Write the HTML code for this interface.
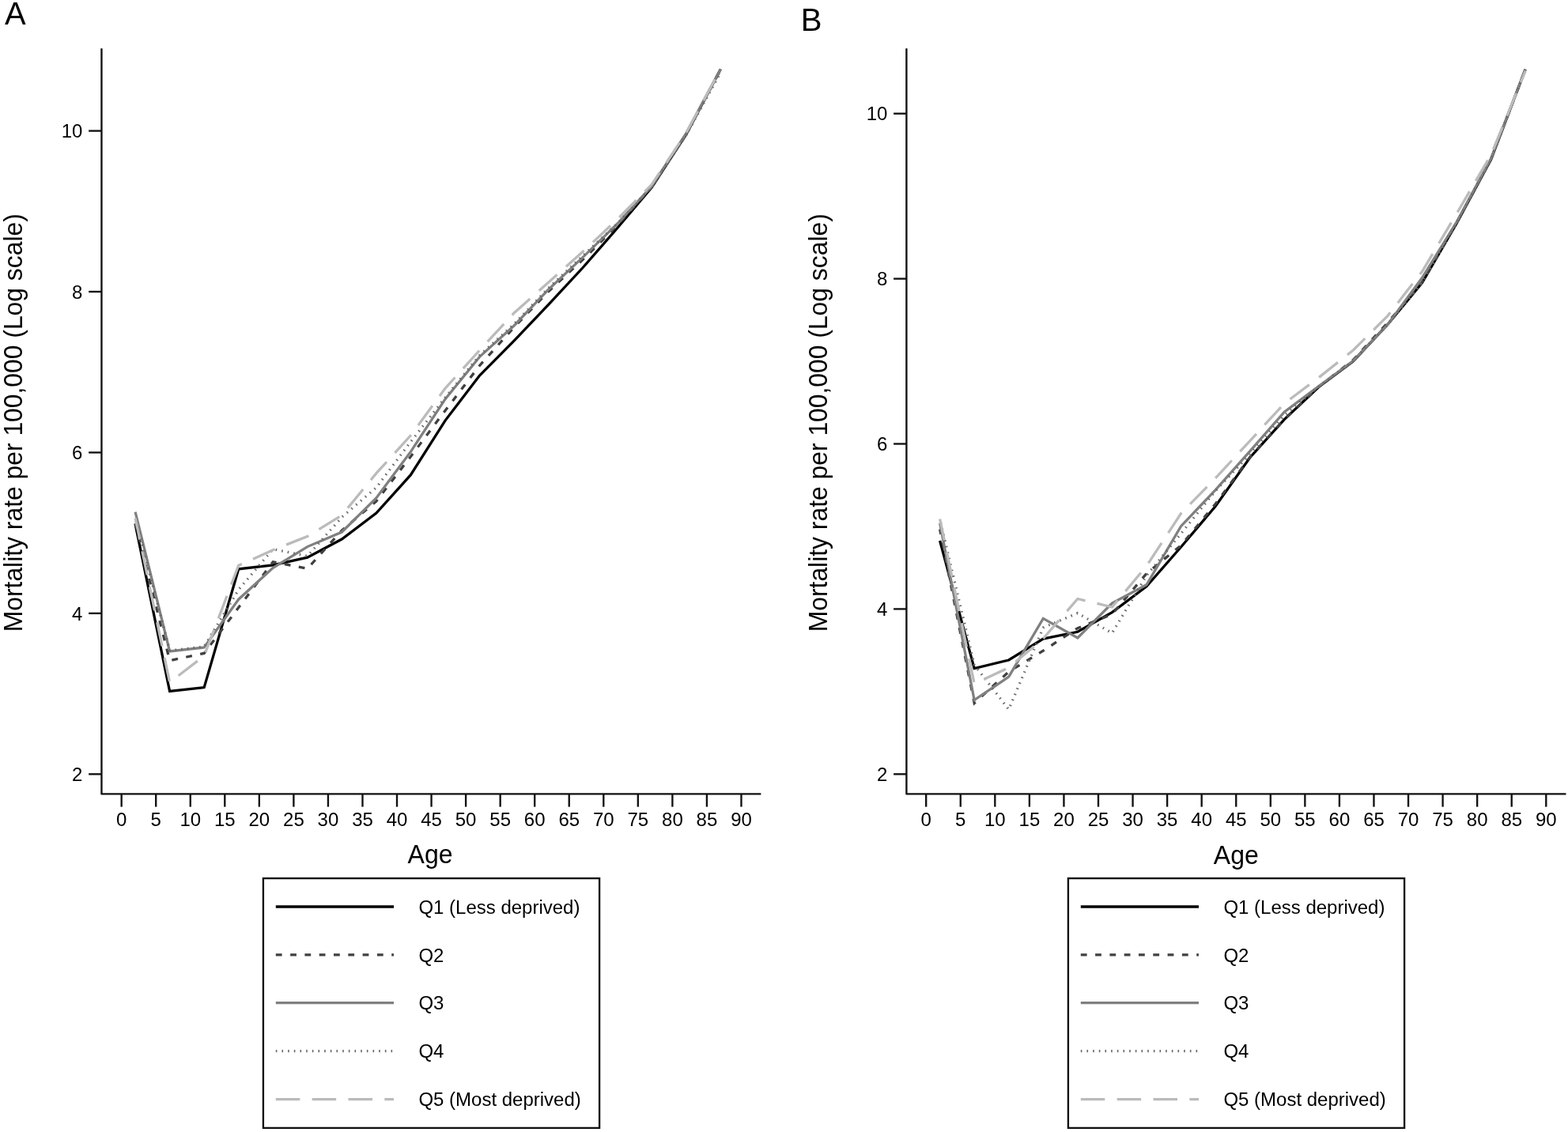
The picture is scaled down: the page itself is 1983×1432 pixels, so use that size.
<!DOCTYPE html>
<html lang="en">
<head>
<meta charset="utf-8">
<title>Mortality rate per 100,000 (Log scale) by age and deprivation quintile</title>
<style>
html,body{margin:0;padding:0;background:#ffffff;}
body{width:1983px;height:1432px;overflow:hidden;}
svg{display:block;}
text{font-family:"Liberation Sans", Arial, Helvetica, sans-serif;fill:#000000;}
.ax{stroke:#111111;stroke-width:2.35;fill:none;stroke-linecap:butt;}
.tk{font-size:24px;}
.ti{font-size:32px;}
.yt{font-size:31.85px;}
.pl{font-size:40px;}
.lg{font-size:24px;}
.ln{fill:none;stroke-width:3.3;stroke-linejoin:miter;stroke-linecap:butt;}
.q1{stroke:#000000;}
.q2{stroke:#404040;stroke-dasharray:7.8 10.5;}
.q3{stroke:#808080;}
.q4{stroke:#6a6a6a;stroke-dasharray:1.6 6.07;}
.q5{stroke:#bbbbbb;stroke-dasharray:30.5 15.35;}
</style>
</head>
<body>
<svg width="1983" height="1432" viewBox="0 0 1983 1432" role="img" aria-label="Mortality rate per 100,000 (log scale) by age and deprivation quintile, panels A and B">
<rect x="0" y="0" width="1983" height="1432" fill="#ffffff"/>
<g id="panel-a">
<text class="pl" transform="translate(6 30.9) scale(1 1.028)">A</text>
<path class="ax" d="M128.45 61.3 V1004.35 H962.4" stroke-linejoin="round"/>
<path class="ax" d="M112.15 979.3 H128.45"/>
<text class="tk" text-anchor="end" transform="translate(104.45 988.05) scale(1 1.028)">2</text>
<path class="ax" d="M112.15 775.87 H128.45"/>
<text class="tk" text-anchor="end" transform="translate(104.45 784.62) scale(1 1.028)">4</text>
<path class="ax" d="M112.15 572.43 H128.45"/>
<text class="tk" text-anchor="end" transform="translate(104.45 581.18) scale(1 1.028)">6</text>
<path class="ax" d="M112.15 369 H128.45"/>
<text class="tk" text-anchor="end" transform="translate(104.45 377.75) scale(1 1.028)">8</text>
<path class="ax" d="M112.15 165.57 H128.45"/>
<text class="tk" text-anchor="end" transform="translate(104.45 174.32) scale(1 1.028)">10</text>
<path class="ax" d="M153.66 1004.35 V1020.65"/>
<text class="tk" text-anchor="middle" transform="translate(153.66 1045.4) scale(1 1.028)">0</text>
<path class="ax" d="M197.2 1004.35 V1020.65"/>
<text class="tk" text-anchor="middle" transform="translate(197.2 1045.4) scale(1 1.028)">5</text>
<path class="ax" d="M240.75 1004.35 V1020.65"/>
<text class="tk" text-anchor="middle" transform="translate(240.75 1045.4) scale(1 1.028)">10</text>
<path class="ax" d="M284.29 1004.35 V1020.65"/>
<text class="tk" text-anchor="middle" transform="translate(284.29 1045.4) scale(1 1.028)">15</text>
<path class="ax" d="M327.84 1004.35 V1020.65"/>
<text class="tk" text-anchor="middle" transform="translate(327.84 1045.4) scale(1 1.028)">20</text>
<path class="ax" d="M371.38 1004.35 V1020.65"/>
<text class="tk" text-anchor="middle" transform="translate(371.38 1045.4) scale(1 1.028)">25</text>
<path class="ax" d="M414.93 1004.35 V1020.65"/>
<text class="tk" text-anchor="middle" transform="translate(414.93 1045.4) scale(1 1.028)">30</text>
<path class="ax" d="M458.48 1004.35 V1020.65"/>
<text class="tk" text-anchor="middle" transform="translate(458.48 1045.4) scale(1 1.028)">35</text>
<path class="ax" d="M502.02 1004.35 V1020.65"/>
<text class="tk" text-anchor="middle" transform="translate(502.02 1045.4) scale(1 1.028)">40</text>
<path class="ax" d="M545.56 1004.35 V1020.65"/>
<text class="tk" text-anchor="middle" transform="translate(545.56 1045.4) scale(1 1.028)">45</text>
<path class="ax" d="M589.11 1004.35 V1020.65"/>
<text class="tk" text-anchor="middle" transform="translate(589.11 1045.4) scale(1 1.028)">50</text>
<path class="ax" d="M632.65 1004.35 V1020.65"/>
<text class="tk" text-anchor="middle" transform="translate(632.65 1045.4) scale(1 1.028)">55</text>
<path class="ax" d="M676.2 1004.35 V1020.65"/>
<text class="tk" text-anchor="middle" transform="translate(676.2 1045.4) scale(1 1.028)">60</text>
<path class="ax" d="M719.74 1004.35 V1020.65"/>
<text class="tk" text-anchor="middle" transform="translate(719.74 1045.4) scale(1 1.028)">65</text>
<path class="ax" d="M763.29 1004.35 V1020.65"/>
<text class="tk" text-anchor="middle" transform="translate(763.29 1045.4) scale(1 1.028)">70</text>
<path class="ax" d="M806.83 1004.35 V1020.65"/>
<text class="tk" text-anchor="middle" transform="translate(806.83 1045.4) scale(1 1.028)">75</text>
<path class="ax" d="M850.38 1004.35 V1020.65"/>
<text class="tk" text-anchor="middle" transform="translate(850.38 1045.4) scale(1 1.028)">80</text>
<path class="ax" d="M893.92 1004.35 V1020.65"/>
<text class="tk" text-anchor="middle" transform="translate(893.92 1045.4) scale(1 1.028)">85</text>
<path class="ax" d="M937.47 1004.35 V1020.65"/>
<text class="tk" text-anchor="middle" transform="translate(937.47 1045.4) scale(1 1.028)">90</text>
<text class="ti" text-anchor="middle" transform="translate(544 1092.45) scale(1 1.028)">Age</text>
<text class="yt" text-anchor="middle" transform="translate(27.9 534.75) rotate(-90) scale(1 1.028)">Mortality rate per 100,000 (Log scale)</text>
<polyline class="ln q1" points="171.08,663 214.62,874.5 258.17,869.6 301.71,719.8 345.26,714.8 388.8,705.2 432.35,682 475.89,649.1 519.44,600.7 562.98,532.1 606.53,475.1 650.07,431.1 693.62,385.4 737.16,338.5 780.71,288.5 824.25,237 867.8,170 911.34,87.5"/>
<polyline class="ln q2" stroke-dashoffset="1.25" points="171.08,662 214.62,835.6 258.17,826.4 301.71,768.5 345.26,710.8 388.8,719.3 432.35,671 475.89,634 519.44,577.5 562.98,519.5 606.53,462.5 650.07,414 693.62,368.7 737.16,328.4 780.71,285 824.25,236.4 867.8,169.5 911.34,88"/>
<polyline class="ln q3" points="171.08,647.7 214.62,824 258.17,819 301.71,758.2 345.26,718.3 388.8,691.6 432.35,673 475.89,629.9 519.44,571.4 562.98,504.9 606.53,451.4 650.07,412 693.62,366.2 737.16,325.4 780.71,283 824.25,235.5 867.8,168.6 911.34,87.5"/>
<polyline class="ln q4" stroke-dashoffset="3.5" points="171.08,655 214.62,823 258.17,818 301.71,746 345.26,694.6 388.8,703.5 432.35,654.3 475.89,616.8 519.44,558.8 562.98,503 606.53,449.5 650.07,410.1 693.62,364.3 737.16,323.5 780.71,283 824.25,236 867.8,171 911.34,91.5"/>
<polyline class="ln q5" stroke-dashoffset="3" points="171.08,655.5 214.62,863.3 258.17,829.7 301.71,715.3 345.26,695.8 388.8,678.5 432.35,651.8 475.89,598.7 519.44,550.8 562.98,491.3 606.53,443.1 650.07,396 693.62,357.2 737.16,318.3 780.71,277.5 824.25,233.3 867.8,168 911.34,87"/>
<rect class="ax" x="332.9" y="1111.1" width="425.2" height="315.8"/>
<path class="ln q1" d="M348.8 1147 H498"/>
<text class="lg" transform="translate(529.4 1155.6) scale(1 1.028)">Q1 (Less deprived)</text>
<path class="ln q2" d="M348.8 1207.9 H498"/>
<text class="lg" transform="translate(529.4 1216.5) scale(1 1.028)">Q2</text>
<path class="ln q3" d="M348.8 1268.7 H498"/>
<text class="lg" transform="translate(529.4 1277.3) scale(1 1.028)">Q3</text>
<path class="ln q4" d="M348.8 1329.7 H498"/>
<text class="lg" transform="translate(529.4 1338.3) scale(1 1.028)">Q4</text>
<path class="ln q5" d="M348.8 1390.6 H498"/>
<text class="lg" transform="translate(529.4 1399.2) scale(1 1.028)">Q5 (Most deprived)</text>
</g>
<g id="panel-b">
<text class="pl" transform="translate(1012.8 39.3) scale(1 1.028)">B</text>
<path class="ax" d="M1146.4 61.3 V1004.35 H1980.5" stroke-linejoin="round"/>
<path class="ax" d="M1130.1 979.3 H1146.4"/>
<text class="tk" text-anchor="end" transform="translate(1122.4 988.05) scale(1 1.028)">2</text>
<path class="ax" d="M1130.1 770.4 H1146.4"/>
<text class="tk" text-anchor="end" transform="translate(1122.4 779.15) scale(1 1.028)">4</text>
<path class="ax" d="M1130.1 561.5 H1146.4"/>
<text class="tk" text-anchor="end" transform="translate(1122.4 570.25) scale(1 1.028)">6</text>
<path class="ax" d="M1130.1 352.6 H1146.4"/>
<text class="tk" text-anchor="end" transform="translate(1122.4 361.35) scale(1 1.028)">8</text>
<path class="ax" d="M1130.1 143.7 H1146.4"/>
<text class="tk" text-anchor="end" transform="translate(1122.4 152.45) scale(1 1.028)">10</text>
<path class="ax" d="M1171.2 1004.35 V1020.65"/>
<text class="tk" text-anchor="middle" transform="translate(1171.2 1045.4) scale(1 1.028)">0</text>
<path class="ax" d="M1214.76 1004.35 V1020.65"/>
<text class="tk" text-anchor="middle" transform="translate(1214.76 1045.4) scale(1 1.028)">5</text>
<path class="ax" d="M1258.32 1004.35 V1020.65"/>
<text class="tk" text-anchor="middle" transform="translate(1258.32 1045.4) scale(1 1.028)">10</text>
<path class="ax" d="M1301.88 1004.35 V1020.65"/>
<text class="tk" text-anchor="middle" transform="translate(1301.88 1045.4) scale(1 1.028)">15</text>
<path class="ax" d="M1345.44 1004.35 V1020.65"/>
<text class="tk" text-anchor="middle" transform="translate(1345.44 1045.4) scale(1 1.028)">20</text>
<path class="ax" d="M1389 1004.35 V1020.65"/>
<text class="tk" text-anchor="middle" transform="translate(1389 1045.4) scale(1 1.028)">25</text>
<path class="ax" d="M1432.56 1004.35 V1020.65"/>
<text class="tk" text-anchor="middle" transform="translate(1432.56 1045.4) scale(1 1.028)">30</text>
<path class="ax" d="M1476.12 1004.35 V1020.65"/>
<text class="tk" text-anchor="middle" transform="translate(1476.12 1045.4) scale(1 1.028)">35</text>
<path class="ax" d="M1519.68 1004.35 V1020.65"/>
<text class="tk" text-anchor="middle" transform="translate(1519.68 1045.4) scale(1 1.028)">40</text>
<path class="ax" d="M1563.24 1004.35 V1020.65"/>
<text class="tk" text-anchor="middle" transform="translate(1563.24 1045.4) scale(1 1.028)">45</text>
<path class="ax" d="M1606.8 1004.35 V1020.65"/>
<text class="tk" text-anchor="middle" transform="translate(1606.8 1045.4) scale(1 1.028)">50</text>
<path class="ax" d="M1650.36 1004.35 V1020.65"/>
<text class="tk" text-anchor="middle" transform="translate(1650.36 1045.4) scale(1 1.028)">55</text>
<path class="ax" d="M1693.92 1004.35 V1020.65"/>
<text class="tk" text-anchor="middle" transform="translate(1693.92 1045.4) scale(1 1.028)">60</text>
<path class="ax" d="M1737.48 1004.35 V1020.65"/>
<text class="tk" text-anchor="middle" transform="translate(1737.48 1045.4) scale(1 1.028)">65</text>
<path class="ax" d="M1781.04 1004.35 V1020.65"/>
<text class="tk" text-anchor="middle" transform="translate(1781.04 1045.4) scale(1 1.028)">70</text>
<path class="ax" d="M1824.6 1004.35 V1020.65"/>
<text class="tk" text-anchor="middle" transform="translate(1824.6 1045.4) scale(1 1.028)">75</text>
<path class="ax" d="M1868.16 1004.35 V1020.65"/>
<text class="tk" text-anchor="middle" transform="translate(1868.16 1045.4) scale(1 1.028)">80</text>
<path class="ax" d="M1911.72 1004.35 V1020.65"/>
<text class="tk" text-anchor="middle" transform="translate(1911.72 1045.4) scale(1 1.028)">85</text>
<path class="ax" d="M1955.28 1004.35 V1020.65"/>
<text class="tk" text-anchor="middle" transform="translate(1955.28 1045.4) scale(1 1.028)">90</text>
<text class="ti" text-anchor="middle" transform="translate(1563.3 1092.9) scale(1 1.028)">Age</text>
<text class="yt" text-anchor="middle" transform="translate(1045.9 534.75) rotate(-90) scale(1 1.028)">Mortality rate per 100,000 (Log scale)</text>
<polyline class="ln q1" points="1188.62,684 1232.18,845.6 1275.74,835 1319.3,808.1 1362.86,799.3 1406.42,774.6 1449.98,741.9 1493.54,692 1537.1,640.5 1580.66,579 1624.22,530.6 1667.78,489.5 1711.34,457 1754.9,410.5 1798.46,357.9 1842.02,282.6 1885.58,201.9 1929.14,87.7"/>
<polyline class="ln q2" stroke-dashoffset="1.25" points="1188.62,669.5 1232.18,889.5 1275.74,849.7 1319.3,823.2 1362.86,794.6 1406.42,777 1449.98,725.5 1493.54,690 1537.1,637.5 1580.66,578.6 1624.22,530.8 1667.78,489.4 1711.34,455.3 1754.9,408.2 1798.46,357 1842.02,282 1885.58,201.3 1929.14,87.7"/>
<polyline class="ln q3" points="1188.62,662 1232.18,885.5 1275.74,856.2 1319.3,782.4 1362.86,807 1406.42,763 1449.98,739.8 1493.54,665.7 1537.1,619.8 1580.66,570.9 1624.22,521.2 1667.78,488.5 1711.34,456.5 1754.9,410.7 1798.46,351.5 1842.02,281 1885.58,200.5 1929.14,87.7"/>
<polyline class="ln q4" stroke-dashoffset="3.5" points="1188.62,657 1232.18,841 1275.74,897.4 1319.3,794 1362.86,775.6 1406.42,800.9 1449.98,728 1493.54,675 1537.1,621 1580.66,574.9 1624.22,525.8 1667.78,489 1711.34,456.5 1754.9,410.3 1798.46,357.2 1842.02,282.4 1885.58,201.6 1929.14,87.7"/>
<polyline class="ln q5" stroke-dashoffset="3" points="1188.62,656.5 1232.18,864.8 1275.74,844.6 1319.3,807.8 1362.86,757.5 1406.42,768 1449.98,716 1493.54,649.6 1537.1,605 1580.66,557.8 1624.22,510.4 1667.78,477.6 1711.34,443 1754.9,399.6 1798.46,343.5 1842.02,270.5 1885.58,196 1929.14,89.8"/>
<rect class="ax" x="1350.9" y="1111.1" width="425.2" height="315.8"/>
<path class="ln q1" d="M1366.8 1147 H1516"/>
<text class="lg" transform="translate(1547.4 1155.6) scale(1 1.028)">Q1 (Less deprived)</text>
<path class="ln q2" d="M1366.8 1207.9 H1516"/>
<text class="lg" transform="translate(1547.4 1216.5) scale(1 1.028)">Q2</text>
<path class="ln q3" d="M1366.8 1268.7 H1516"/>
<text class="lg" transform="translate(1547.4 1277.3) scale(1 1.028)">Q3</text>
<path class="ln q4" d="M1366.8 1329.7 H1516"/>
<text class="lg" transform="translate(1547.4 1338.3) scale(1 1.028)">Q4</text>
<path class="ln q5" d="M1366.8 1390.6 H1516"/>
<text class="lg" transform="translate(1547.4 1399.2) scale(1 1.028)">Q5 (Most deprived)</text>
</g>
</svg>
</body>
</html>
